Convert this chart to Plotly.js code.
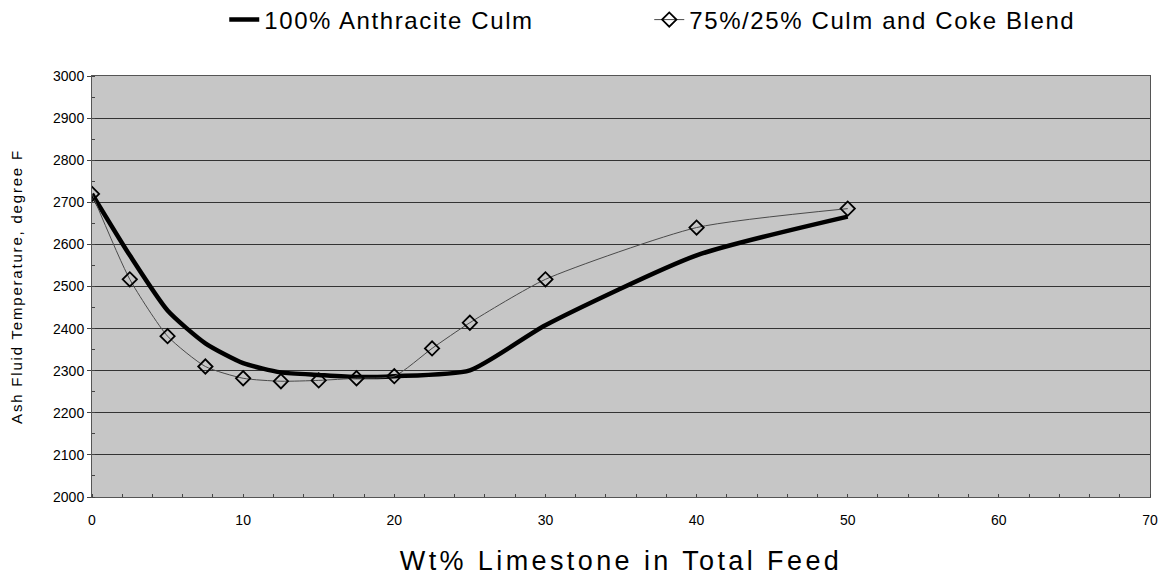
<!DOCTYPE html>
<html>
<head>
<meta charset="utf-8">
<script src="https://cdn.plot.ly/plotly-3.0.1.min.js"></script>
<style>
html,body{margin:0;padding:0;background:#fff;}
#chart{width:1166px;height:577px;}
.xtitle{letter-spacing:3.4px;}
.ytitle{letter-spacing:1.8px;}
.legendtext{letter-spacing:1.6px;}
</style>
</head>
<body>
<div id="chart"></div>
<script>
// Data
const culmX = [0, 2.5, 5, 7.5, 10, 12.5, 15, 17.5, 20, 25, 30, 40, 50];
const culmY = [2720, 2574, 2443, 2365, 2318, 2296, 2290, 2285, 2287, 2301, 2408, 2574, 2666];
const blendX = [0, 2.5, 5, 7.5, 10, 12.5, 15, 17.5, 20, 22.5, 25, 30, 40, 50];
const blendY = [2720, 2517, 2382, 2310, 2282, 2275, 2277, 2282, 2287, 2353, 2414, 2517, 2640, 2685];
const seriesNames = ['100% Anthracite Culm', '75%/25% Culm and Coke Blend'];

const traces = [
  {
    x: culmX, y: culmY, name: seriesNames[0], type: 'scatter', mode: 'lines',
    line: {color: '#000000', width: 4.5, shape: 'spline', smoothing: 0.6}
  },
  {
    x: blendX, y: blendY, name: seriesNames[1], type: 'scatter', mode: 'lines+markers',
    line: {color: '#4a4a4a', width: 1, shape: 'spline', smoothing: 0.6},
    marker: {symbol: 'diamond-open', size: 11, color: '#000000', line: {width: 1.8, color: '#000000'}}
  }
];

const layout = {
  width: 1166, height: 577,
  margin: {l: 92, r: 16, t: 76, b: 80, autoexpand: false},
  paper_bgcolor: '#ffffff',
  plot_bgcolor: '#c6c6c6',
  font: {family: 'Liberation Sans, Arial, sans-serif', color: '#000'},
  showlegend: true,
  legend: {
    orientation: 'h', x: 0.125, xanchor: 'left', y: 1.133, yanchor: 'middle',
    font: {size: 24, color: '#000'}, entrywidth: 380, entrywidthmode: 'pixels',
    bgcolor: 'rgba(0,0,0,0)'
  },
  xaxis: {
    range: [0, 70], dtick: 10, tick0: 0,
    showgrid: false, zeroline: false,
    showline: true, linecolor: '#555', linewidth: 1, mirror: true,
    ticks: 'outside', ticklen: 10, tickcolor: 'rgba(0,0,0,0)', tickfont: {size: 14},
    minor: {dtick: 2, ticks: 'inside', ticklen: 3, tickcolor: '#444'},
    title: {text: 'Wt% Limestone in Total Feed', font: {size: 27}, standoff: 24}
  },
  yaxis: {
    range: [2000, 3000], dtick: 100, tick0: 2000,
    showgrid: true, gridcolor: '#333333', gridwidth: 1, zeroline: false,
    showline: true, linecolor: '#555', linewidth: 1, mirror: true,
    ticks: 'outside', ticklen: 4, tickcolor: '#444', tickfont: {size: 14},
    minor: {dtick: 50, ticks: 'inside', ticklen: 3, tickcolor: '#444', showgrid: false},
    title: {text: 'Ash Fluid Temperature, degree F', font: {size: 15}, standoff: 26}
  }
};

Plotly.newPlot('chart', traces, layout, {displayModeBar: false, staticPlot: true});
</script>
</body>
</html>
